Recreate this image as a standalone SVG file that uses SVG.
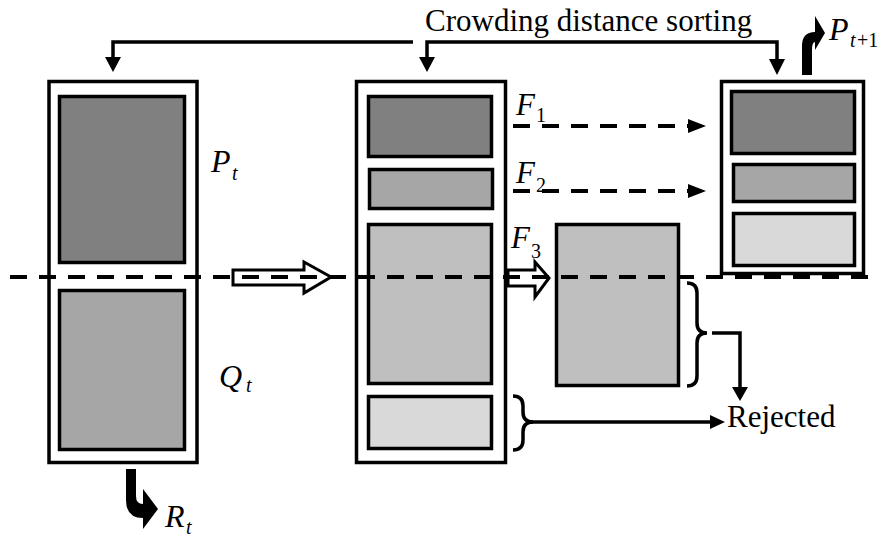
<svg xmlns="http://www.w3.org/2000/svg" width="883" height="538" viewBox="0 0 883 538">
<style>
.box{fill:#fff;stroke:#000;stroke-width:3.5}
.r{stroke:#000;stroke-width:3.5}
.c1{fill:#808080}.c2{fill:#a6a6a6}.c3{fill:#bfbfbf}.c4{fill:#d9d9d9}
.ln{fill:none;stroke:#000;stroke-width:3.5}
.dash{fill:none;stroke:#000;stroke-width:4;stroke-dasharray:17 12}
.hd{fill:#000}
.lbl{font-family:"Liberation Serif","Times New Roman",serif;font-size:31px;fill:#000}
.it{font-style:italic}
.big{font-size:32px}
.sub{font-size:20px}
</style>
<rect width="883" height="538" fill="#fff"/>
<g id="left-box">
<rect class="box" x="49" y="81.5" width="148" height="381"/>
<rect class="r c1" x="59.5" y="96.5" width="125" height="166"/>
<rect class="r c2" x="59.5" y="290.5" width="125" height="159"/>
<text class="lbl it big" x="211" y="172">P</text><text class="lbl it sub" x="232" y="180">t</text>
<text class="lbl it big" x="219" y="387">Q</text><text class="lbl it sub" x="246" y="392">t</text>
</g>
<g id="mid-box">
<rect class="box" x="356.5" y="81.5" width="149" height="381"/>
<rect class="r c1" x="368.5" y="96.5" width="123" height="60"/>
<rect class="r c2" x="369.5" y="169.5" width="123" height="39"/>
<rect class="r c3" x="368.5" y="224.5" width="123" height="159"/>
<rect class="r c4" x="368.5" y="396.5" width="123" height="52"/>
</g>
<g id="f3-box">
<rect class="r c3" x="556.5" y="224.5" width="122" height="161"/>
</g>
<g id="right-box">
<rect class="box" x="721.5" y="81.5" width="142" height="192"/>
<rect class="r c1" x="731.5" y="91.5" width="123" height="62"/>
<rect class="r c2" x="733.5" y="164.5" width="121" height="37"/>
<rect class="r c4" x="733.5" y="213.5" width="121" height="52"/>
</g>
<g id="labels">
<text class="lbl" x="425" y="31">Crowding distance sorting</text>
<text class="lbl" x="727" y="427">Rejected</text>
<text class="lbl it" x="516" y="115">F</text><text class="lbl sub" x="536" y="122">1</text>
<text class="lbl it" x="516" y="183">F</text><text class="lbl sub" x="536" y="192">2</text>
<text class="lbl it" x="511" y="248">F</text><text class="lbl sub" x="531" y="258">3</text>
<text class="lbl it big" x="829" y="40">P</text><text class="lbl it sub" x="850" y="47">t</text><text class="lbl sub" x="857" y="47">+1</text>
<text class="lbl it big" x="165" y="527">R</text><text class="lbl it sub" x="186" y="534">t</text>
</g>
<g id="connectors">
<path class="ln" d="M413 42H113V58"/>
<polygon class="hd" points="105,57 121,57 113,72"/>
<path class="ln" d="M427 58V42H777V60"/>
<polygon class="hd" points="419,57 435,57 427,72"/>
<polygon class="hd" points="769,59 785,59 777,75"/>
<path class="dash" d="M513 126H690"/>
<polygon class="hd" points="688,119 706,126 688,133"/>
<path class="dash" d="M513 191H690"/>
<polygon class="hd" points="688,184 706,191 688,198"/>
<polygon fill="#fff" stroke="#000" stroke-width="3" points="233,270 304,270 304,262 331,277 304,293 304,285 233,285"/>
<polygon fill="#fff" stroke="#000" stroke-width="3" points="508,270 535,270 535,262 549,278 535,297 535,286 508,286"/>
<path class="ln" d="M687 283Q697 283 697 293V323Q697 333 707 333Q697 333 697 343V376Q697 386 687 386"/>
<path class="ln" d="M712 333H740V388"/>
<polygon class="hd" points="732,387 748,387 740,401"/>
<path class="ln" d="M513 396Q523 396 523 406V412Q523 422 533 422Q523 422 523 432V440Q523 450 513 450"/>
<path class="ln" d="M530 422H712"/>
<polygon class="hd" points="710,415 725,422 710,429"/>
<path class="hd" d="M126 469H136V496Q136 504 143 504V489L158 509L143 529V518Q126 518 126 500Z"/>
<path class="hd" d="M802 75V46Q802 32 815 32V16L825 33L815 50V42Q812 42 812 50V75Z"/>
<path class="dash" d="M10 277H870"/>
</g>
</svg>
